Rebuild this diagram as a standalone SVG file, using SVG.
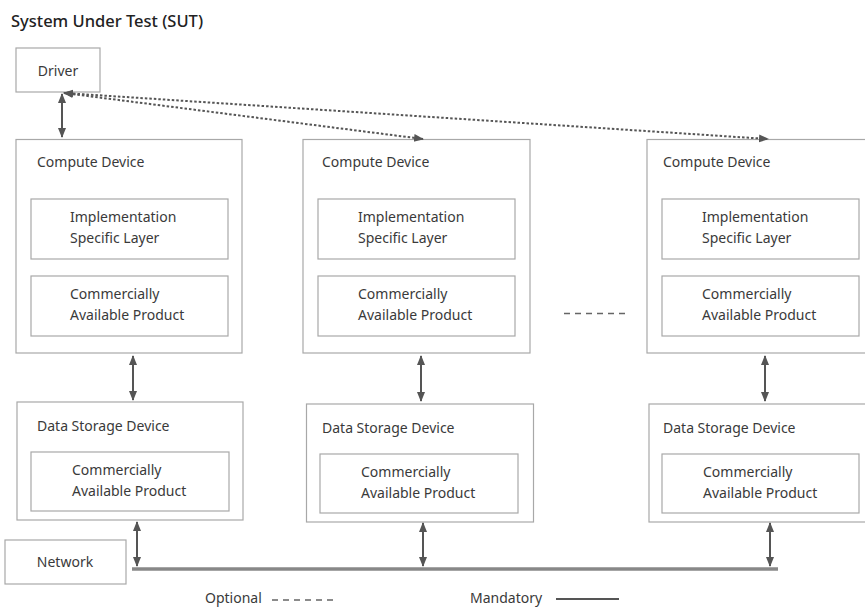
<svg xmlns="http://www.w3.org/2000/svg" width="865" height="609" viewBox="0 0 865 609">
<style>
  text { font-family: "Noto Sans", "Liberation Sans", sans-serif; font-size: 14px; fill: #3a3a3a; }
  .title { font-size: 16.5px; fill: #222; font-weight: 500; }
  .box { fill: #fff; stroke: #a8a8a8; stroke-width: 1.2; }
  .conn { stroke: #555; stroke-width: 2; fill: none; }
  .dot { stroke: #555; stroke-width: 2; fill: none; stroke-dasharray: 2.5 2; }
  .dash { stroke: #666; stroke-width: 1.5; fill: none; stroke-dasharray: 6 5; }
  .net { stroke: #888; stroke-width: 3.5; fill: none; }
</style>
<defs>
  <marker id="ah" markerUnits="userSpaceOnUse" markerWidth="10" markerHeight="10" viewBox="0 0 10 10" refX="9" refY="5" orient="auto-start-reverse">
    <path d="M0,1 L10,5 L0,9 Z" fill="#555"/>
  </marker>
</defs>
<rect width="865" height="609" fill="#fff"/>
<text class="title" x="11" y="27">System Under Test (SUT)</text>

<g id="driver">
  <rect class="box" x="16" y="48" width="84" height="44"/>
  <text x="58" y="76" text-anchor="middle">Driver</text>
</g>

<g id="compute1">
  <rect class="box" x="16" y="139.5" width="226" height="213.5"/>
  <text x="37" y="167">Compute Device</text>
  <rect class="box" x="31" y="199" width="197" height="60"/>
  <text x="70" y="222">Implementation</text>
  <text x="70" y="243">Specific Layer</text>
  <rect class="box" x="31" y="276" width="197" height="60"/>
  <text x="70" y="299">Commercially</text>
  <text x="70" y="320">Available Product</text>
</g>
<g id="compute2">
  <rect class="box" x="303" y="139.5" width="227" height="213.5"/>
  <text x="322" y="167">Compute Device</text>
  <rect class="box" x="318" y="199" width="197" height="60"/>
  <text x="358" y="222">Implementation</text>
  <text x="358" y="243">Specific Layer</text>
  <rect class="box" x="318" y="276" width="197" height="60"/>
  <text x="358" y="299">Commercially</text>
  <text x="358" y="320">Available Product</text>
</g>
<g id="compute3">
  <rect class="box" x="647" y="139.5" width="222" height="213.5"/>
  <text x="663" y="167">Compute Device</text>
  <rect class="box" x="662" y="199" width="197" height="60"/>
  <text x="702" y="222">Implementation</text>
  <text x="702" y="243">Specific Layer</text>
  <rect class="box" x="662" y="276" width="197" height="60"/>
  <text x="702" y="299">Commercially</text>
  <text x="702" y="320">Available Product</text>
</g>

<g id="storage1">
  <rect class="box" x="17" y="402" width="226" height="118"/>
  <text x="37" y="431">Data Storage Device</text>
  <rect class="box" x="31" y="452" width="198" height="59"/>
  <text x="72" y="475">Commercially</text>
  <text x="72" y="496">Available Product</text>
</g>
<g id="storage2">
  <rect class="box" x="306.5" y="404" width="227" height="118"/>
  <text x="322" y="433">Data Storage Device</text>
  <rect class="box" x="320" y="454" width="198" height="59"/>
  <text x="361" y="477">Commercially</text>
  <text x="361" y="498">Available Product</text>
</g>
<g id="storage3">
  <rect class="box" x="649" y="404" width="222" height="118"/>
  <text x="663" y="433">Data Storage Device</text>
  <rect class="box" x="662" y="454" width="197" height="59"/>
  <text x="703" y="477">Commercially</text>
  <text x="703" y="498">Available Product</text>
</g>

<g id="network">
  <rect class="box" x="5" y="540" width="121" height="44"/>
  <text x="65" y="567" text-anchor="middle">Network</text>
</g>

<g id="connectors">
  <line class="net" x1="132" y1="569" x2="778" y2="569"/>
  <line class="conn" x1="62" y1="94" x2="62" y2="137" marker-start="url(#ah)" marker-end="url(#ah)"/>
  <line class="dot" x1="64" y1="93" x2="423" y2="139" marker-start="url(#ah)" marker-end="url(#ah)"/>
  <line class="dot" x1="64" y1="93" x2="768" y2="139" marker-start="url(#ah)" marker-end="url(#ah)"/>
  <line class="conn" x1="133" y1="356" x2="133" y2="400" marker-start="url(#ah)" marker-end="url(#ah)"/>
  <line class="conn" x1="421" y1="356" x2="421" y2="401" marker-start="url(#ah)" marker-end="url(#ah)"/>
  <line class="conn" x1="765" y1="356" x2="765" y2="401" marker-start="url(#ah)" marker-end="url(#ah)"/>
  <line class="conn" x1="137" y1="522" x2="137" y2="566" marker-start="url(#ah)" marker-end="url(#ah)"/>
  <line class="conn" x1="423" y1="523" x2="423" y2="566" marker-start="url(#ah)" marker-end="url(#ah)"/>
  <line class="conn" x1="770" y1="523" x2="770" y2="566" marker-start="url(#ah)" marker-end="url(#ah)"/>
  <line class="dash" x1="564" y1="313.5" x2="625" y2="313.5"/>
</g>

<g id="legend">
  <text x="205" y="603">Optional</text>
  <line class="dash" x1="272" y1="600" x2="333" y2="600"/>
  <text x="470" y="603">Mandatory</text>
  <line stroke="#555" stroke-width="2" x1="556" y1="599" x2="619" y2="599"/>
</g>
</svg>
